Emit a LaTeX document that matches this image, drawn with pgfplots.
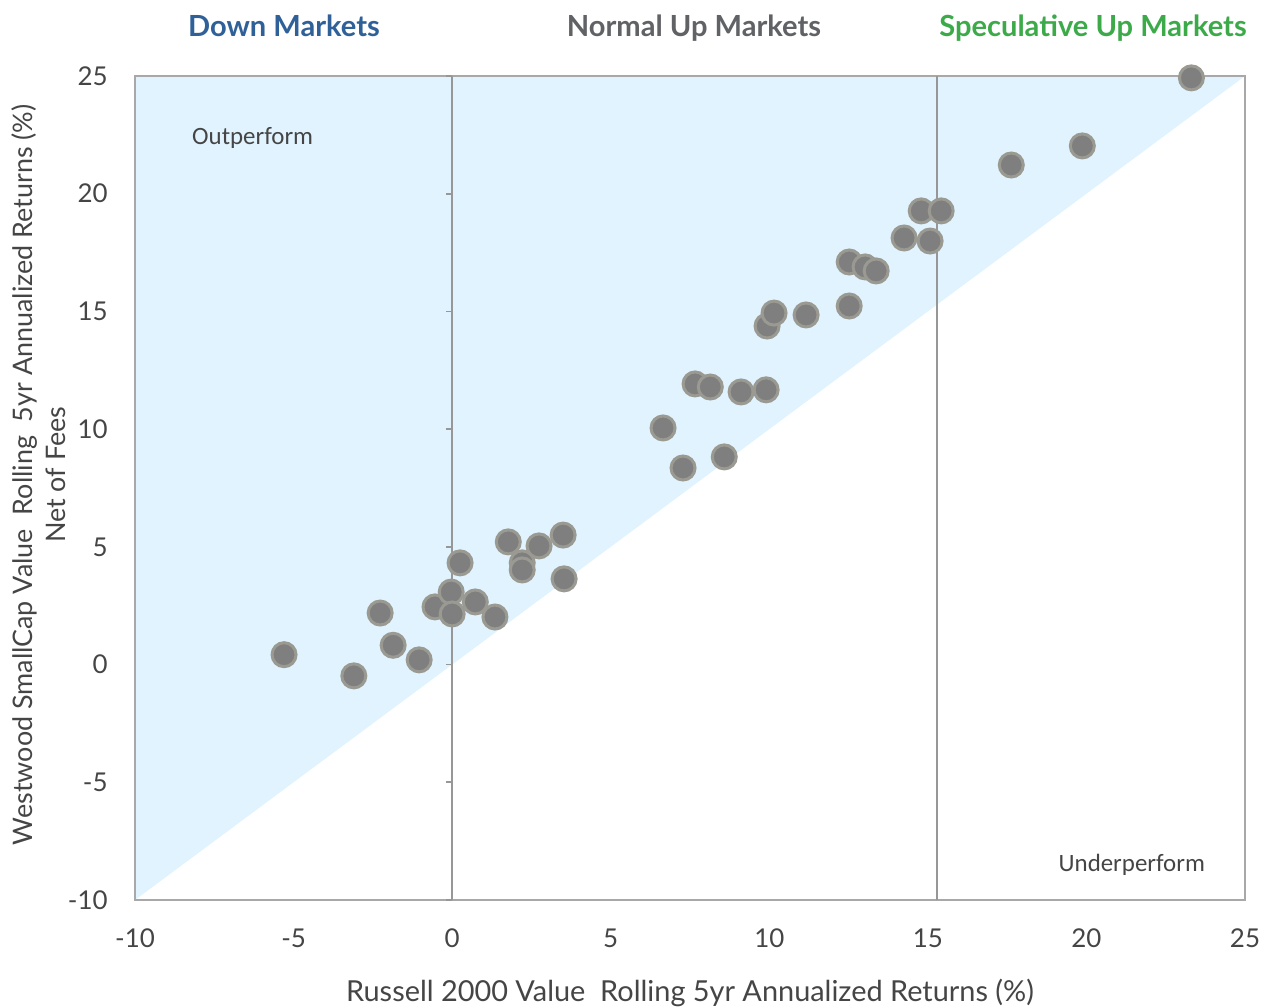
\documentclass[border=0pt]{standalone}
\usepackage{fontspec}
\setmainfont{Lato}
\newfontfamily\callout{Carlito}
\usepackage{pgfplots}
\pgfplotsset{compat=1.18}

\definecolor{skyfill}{HTML}{E0F3FE}
\definecolor{boxgray}{HTML}{A8A8A8}
\definecolor{dotfill}{HTML}{7F7F7F}
\definecolor{dotedge}{HTML}{9A9A92}
\definecolor{txt}{HTML}{454545}
\definecolor{downblue}{HTML}{2F6198}
\definecolor{normgray}{HTML}{606266}
\definecolor{specgreen}{HTML}{3DAA4A}

\begin{document}
\begin{tikzpicture}
\path[use as bounding box] (-67.5bp,-54bp) rectangle (565bp,450bp);
\begin{axis}[
    at={(0,0)}, anchor=south west,
    scale only axis,
    width=555bp, height=412bp,
    xmin=-10, xmax=25, ymin=-10, ymax=25,
    xtick={-10,-5,...,25}, ytick={-10,-5,...,25},
    axis line style={draw=none},
    major tick length=0pt,
    tick label style={font=\fontsize{13}{15}\selectfont, text=txt},
    /pgf/number format/assume math mode=true,
    xticklabel style={anchor=base, yshift=-23.5bp},
    yticklabel style={anchor=east, inner sep=0pt, xshift=-13.5bp},
    xlabel={Russell 2000 Value\ \ Rolling 5yr Annualized Returns (\%)},
    xlabel style={at={(axis description cs:0.5,0)}, anchor=base, yshift=-50.5bp,
        font=\fontsize{14.5}{16}\selectfont, text=txt},
    ylabel={Westwood SmallCap Value\ \ Rolling\ \ 5yr Annualized Returns (\%)\\Net of Fees},
    ylabel style={at={(axis description cs:-0.087,0.516)}, anchor=center,
        align=center, font=\fontsize{13.5}{16.5}\selectfont, text=txt},
    clip=false,
]
% outperform region above the diagonal
\addplot[fill=skyfill, draw=none] coordinates {(-10,-10) (25,25) (-10,25)} -- cycle;
\draw[boxgray, line width=0.9bp] (rel axis cs:0,0) rectangle (rel axis cs:1,1);
\addplot[boxgray!90!black, line width=0.9bp] coordinates {(0,-10) (0,25)};
\addplot[boxgray!90!black, line width=0.9bp] coordinates {(15.3,-10) (15.3,25)};
\pgfplotsinvokeforeach{-10,-5,0,5,10,15,20,25}{
  \draw[boxgray!90!black, line width=0.9bp] (axis cs:0,#1) -- ([xshift=-3bp]axis cs:0,#1);
}

\node[anchor=base, font=\callout\fontsize{12.5}{15}\selectfont, text=txt] at (axis cs:-6.29,22.07) {Outperform};
\node[anchor=base, font=\callout\fontsize{12.5}{15}\selectfont, text=txt] at (axis cs:21.43,-8.81) {Underperform};

\addplot[only marks, mark=*, mark size=6bp,
    mark options={fill=dotfill, draw=dotedge, line width=1.5bp}]
coordinates {
(-5.30,0.42) (-3.10,-0.48) (-2.27,2.19) (-1.86,0.82) (-1.04,0.20)
(-0.54,2.45) (-0.03,3.08) (0.00,2.15) (0.25,4.32) (0.73,2.66)
(1.35,2.02) (1.77,5.21) (2.21,4.32) (2.21,4.02) (2.74,5.04)
(3.50,5.50) (3.53,3.64)
(6.65,10.05) (7.28,8.35) (8.58,8.82) (7.66,11.92) (8.14,11.79)
(9.11,11.58) (9.90,11.67) (9.93,14.38) (10.15,14.93) (11.16,14.85)
(12.52,15.23) (12.52,17.10) (13.02,16.89) (13.37,16.72) (14.25,18.12)
(15.07,17.99) (14.79,19.27) (15.42,19.27)
(17.63,21.22) (19.87,22.03) (23.31,24.92)
};
\end{axis}
\node[anchor=base, font=\bfseries\fontsize{14.6}{16}\selectfont, text=downblue] at (74.5bp,431.5bp) {Down Markets};
\node[anchor=base, font=\bfseries\fontsize{14.6}{16}\selectfont, text=normgray] at (279.5bp,431.5bp) {Normal Up Markets};
\node[anchor=base, font=\bfseries\fontsize{14.6}{16}\selectfont, text=specgreen] at (479bp,431.5bp) {Speculative Up Markets};
\end{tikzpicture}
\end{document}
